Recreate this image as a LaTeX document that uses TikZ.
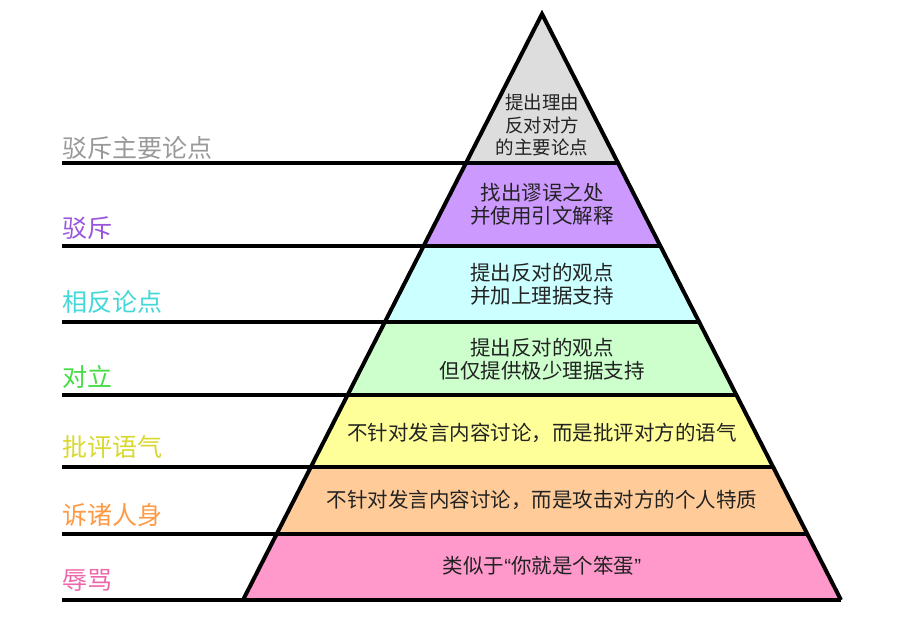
\documentclass[tikz,border=0pt]{standalone}
\usepackage{fontspec}
\setmainfont{Noto Sans CJK SC}
\newfontfamily\qfont{Liberation Sans}
\definecolor{fgray}{HTML}{DDDDDD}
\definecolor{fpurple}{HTML}{CC99FF}
\definecolor{fcyan}{HTML}{CCFFFF}
\definecolor{fgreen}{HTML}{CCFFCC}
\definecolor{fyellow}{HTML}{FFFF99}
\definecolor{forange}{HTML}{FFCC99}
\definecolor{fpink}{HTML}{FF99CC}
\definecolor{lgray}{HTML}{999999}
\definecolor{lpurple}{HTML}{9955DD}
\definecolor{lcyan}{HTML}{44D8D8}
\definecolor{lgreen}{HTML}{44DD44}
\definecolor{lyellow}{HTML}{D8D830}
\definecolor{lorange}{HTML}{FF9944}
\definecolor{lpink}{HTML}{EE66AA}
\definecolor{tdark}{HTML}{222222}
\begin{document}
\begin{tikzpicture}[x=1pt,y=-1pt,
  edge/.style={line width=4pt,black},
  hline/.style={line width=4pt,black},
  lvl/.style={anchor=west,inner sep=0pt,font=\fontsize{25}{29}\selectfont},
  inside/.style={align=center,inner sep=0pt,text=tdark,font=\fontsize{20.5}{22.5}\selectfont}]
\useasboundingbox (0,0) rectangle (898,620);
% pyramid corner coordinates
\coordinate (A) at (542,14);
\coordinate (L1) at (466,163);   \coordinate (R1) at (618,163);
\coordinate (L2) at (423.6,246); \coordinate (R2) at (660.4,246);
\coordinate (L3) at (384.8,322); \coordinate (R3) at (699.2,322);
\coordinate (L4) at (347.6,395); \coordinate (R4) at (736.4,395);
\coordinate (L5) at (310.9,467); \coordinate (R5) at (773.1,467);
\coordinate (L6) at (276.7,534); \coordinate (R6) at (807.3,534);
\coordinate (L7) at (243,600);   \coordinate (R7) at (841,600);
% bands
\fill[fgray] (A) -- (L1) -- (R1) -- cycle;
\fill[fpurple] (L1) -- (L2) -- (R2) -- (R1) -- cycle;
\fill[fcyan] (L2) -- (L3) -- (R3) -- (R2) -- cycle;
\fill[fgreen] (L3) -- (L4) -- (R4) -- (R3) -- cycle;
\fill[fyellow] (L4) -- (L5) -- (R5) -- (R4) -- cycle;
\fill[forange] (L5) -- (L6) -- (R6) -- (R5) -- cycle;
\fill[fpink] (L6) -- (L7) -- (R7) -- (R6) -- cycle;
% left-side start points
\coordinate (S1) at (62,163);
\coordinate (S2) at (62,246);
\coordinate (S3) at (62,322);
\coordinate (S4) at (62,395);
\coordinate (S5) at (62,467);
\coordinate (S6) at (62,534);
\coordinate (S7) at (62,600);
\foreach \i in {1,...,7} { \draw[hline] (S\i) -- (R\i); }
\draw[edge,line join=miter] (L7) -- (A) -- (R7);
% labels
\node[lvl,text=lgray] (n1) at (62,148) {驳斥主要论点};
\node[lvl,text=lpurple] (n2) at (62,228) {驳斥};
\node[lvl,text=lcyan] (n3) at (62,302) {相反论点};
\node[lvl,text=lgreen] (n4) at (62,377) {对立};
\node[lvl,text=lyellow] (n5) at (62,447) {批评语气};
\node[lvl,text=lorange] (n6) at (62,515) {诉诸人身};
\node[lvl,text=lpink] (n7) at (62,580) {辱骂};
% inside texts
\node[inside,font=\fontsize{18.5}{22.5}\selectfont] (t1) at (542,125) {提出理由\\反对对方\\的主要论点};
\node[inside] (t2) at (542,204) {找出谬误之处\\并使用引文解释};
\node[inside] (t3) at (542,284) {提出反对的观点\\并加上理据支持};
\node[inside] (t4) at (542,359) {提出反对的观点\\但仅提供极少理据支持};
\node[inside] (t5) at (542,433) {不针对发言内容讨论，而是批评对方的语气};
\node[inside] (t6) at (542,500) {不针对发言内容讨论，而是攻击对方的个人特质};
\node[inside] (t7) at (542,566) {类似于{\qfont“}你就是个笨蛋{\qfont”}};
\end{tikzpicture}
\end{document}
